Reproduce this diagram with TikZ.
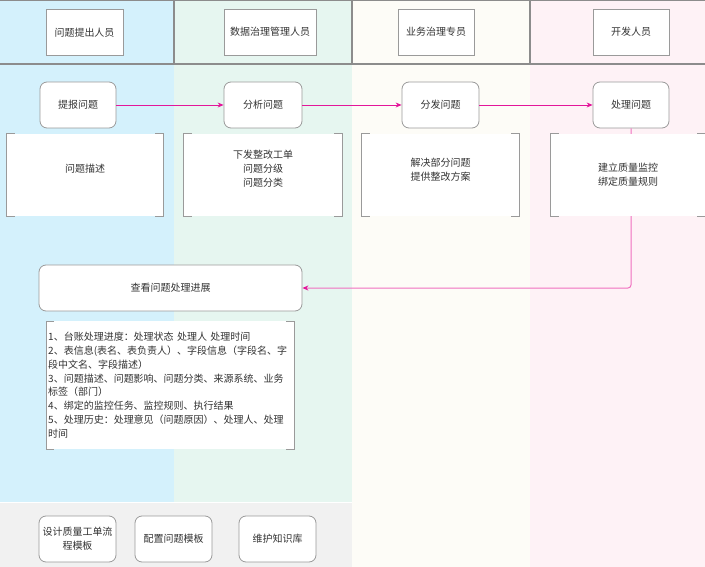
\documentclass[tikz,border=0pt]{standalone}
\usepackage{fontspec}
\setmainfont{Noto Sans CJK SC}
\usetikzlibrary{arrows.meta}
\definecolor{laneA}{HTML}{D4F1FC}
\definecolor{laneB}{HTML}{E6F6F0}
\definecolor{laneC}{HTML}{FDFCF7}
\definecolor{laneD}{HTML}{FEF2F6}
\definecolor{foot}{HTML}{F1F1F1}
\definecolor{hdrline}{HTML}{8C8C8C}
\definecolor{boxline}{HTML}{9A9A9A}
\definecolor{txt}{HTML}{333333}
\definecolor{mag}{HTML}{E3169A}
\definecolor{maglight}{HTML}{F070C0}
\tikzset{
  hdrbox/.style={draw=boxline, fill=white, line width=0.8pt, minimum height=46pt, text=txt, font=\fontsize{10}{12}\selectfont},
  proc/.style={draw=boxline, fill=white, rounded corners=7pt, line width=0.8pt, minimum height=46pt, text=txt, font=\fontsize{10}{14}\selectfont, align=center},
  note/.style={fill=white, inner sep=0pt},
  notetext/.style={text=txt, font=\fontsize{10}{14}\selectfont, align=center, inner sep=0pt},
  brkline/.style={draw=boxline, line width=0.9pt},
  hdrrule/.style={draw=hdrline, line width=1.3pt},
  flow/.style={draw=mag, line width=0.8pt, -{Stealth[length=6pt,width=5pt]}},
  flowlight/.style={draw=maglight, line width=1pt, rounded corners=3pt, -{Stealth[length=6pt,width=5pt,color=mag]}},
}
\newcommand\mybrk[1]{%
  \draw[brkline] ([xshift=8pt]#1.north west) -| (#1.south west) -- ([xshift=8pt]#1.south west);
  \draw[brkline] ([xshift=-8pt]#1.north east) -| (#1.south east) -- ([xshift=-8pt]#1.south east);}
\begin{document}
\begin{tikzpicture}[x=1pt, y=-1pt]
\useasboundingbox (0,0) rectangle (705,567);
% lanes
\fill[laneA] (0,0) rectangle (174,502);
\fill[laneB] (174,0) rectangle (352,502);
\fill[laneC] (352,0) rectangle (530,567);
\fill[laneD] (530,0) rectangle (705,567);
\fill[foot] (0,502) rectangle (352,567);
\draw[white, line width=1pt] (0,502) -- (352,502);
% header rules
\draw[hdrrule] (0,0.6) -- (705,0.6);
\draw[hdrrule] (0,64) -- (705,64);
\draw[hdrrule] (174,0) -- (174,64);
\draw[hdrrule] (352,0) -- (352,64);
\draw[hdrrule] (530,0) -- (530,64);
% headers
\node[hdrbox, minimum width=77pt] (h1) at (84.5,32.5) {问题提出人员};
\node[hdrbox, minimum width=92pt] (h2) at (270,32) {数据治理管理人员};
\node[hdrbox, minimum width=76pt] (h3) at (436,32) {业务治理专员};
\node[hdrbox, minimum width=76pt] (h4) at (631,32) {开发人员};
% return connector (behind boxes)
\node[proc, minimum width=263pt] (v) at (170.5,288) {查看问题处理进展};
\node[proc, minimum width=76pt] (p4) at (631,105) {处理问题};
\draw[flowlight] (p4.south) |- (v.east);
% process boxes
\node[proc, minimum width=76pt] (p1) at (78,105) {提报问题};
\node[proc, minimum width=78pt] (p2) at (263,105) {分析问题};
\node[proc, minimum width=77pt] (p3) at (440.5,105) {分发问题};
\draw[flow] (p1) -- (p2);
\draw[flow] (p2) -- (p3);
\draw[flow] (p3) -- (p4);
% note boxes
\node[note, minimum width=156pt, minimum height=82pt] (b1) at (85,175) {};
\node[note, minimum width=158pt, minimum height=82pt] (b2) at (263,175) {};
\node[note, minimum width=157pt, minimum height=82pt] (b3) at (440.5,175) {};
\node[note, minimum width=154pt, minimum height=82pt] (b4) at (628,175) {};
\mybrk{b1}\mybrk{b2}\mybrk{b3}\mybrk{b4}
\node[notetext] (t1) at (85,169) {问题描述};
\node[notetext] (t2) at (263,169) {下发整改工单\\问题分级\\问题分类};
\node[notetext] (t3) at (440.5,170) {解决部分问题\\提供整改方案};
\node[notetext] (t4) at (628,175) {建立质量监控\\绑定质量规则};
% detail list
\node[fill=white, minimum height=128pt, text width=244pt, inner xsep=2pt, inner ysep=0pt, align=left, text=txt, font=\fontsize{10}{13.9}\selectfont, anchor=north west] (lst) at (46,321) {1、台账处理进度：处理状态 处理人 处理时间\\
2、表信息(表名、表负责人）、字段信息（字段名、字\\
段中文名、字段描述）\\
3、问题描述、问题影响、问题分类、来源系统、业务\\
标签（部门）\\
4、绑定的监控任务、监控规则、执行结果\\
5、处理历史：处理意见（问题原因）、处理人、处理\\
时间};
\mybrk{lst}
% footer
\node[proc, minimum width=77pt] (d1) at (77.5,539) {设计质量工单流\\程模板};
\node[proc, minimum width=77pt] (d2) at (173.5,539) {配置问题模板};
\node[proc, minimum width=77pt] (d3) at (277.5,539) {维护知识库};
\end{tikzpicture}
\end{document}
